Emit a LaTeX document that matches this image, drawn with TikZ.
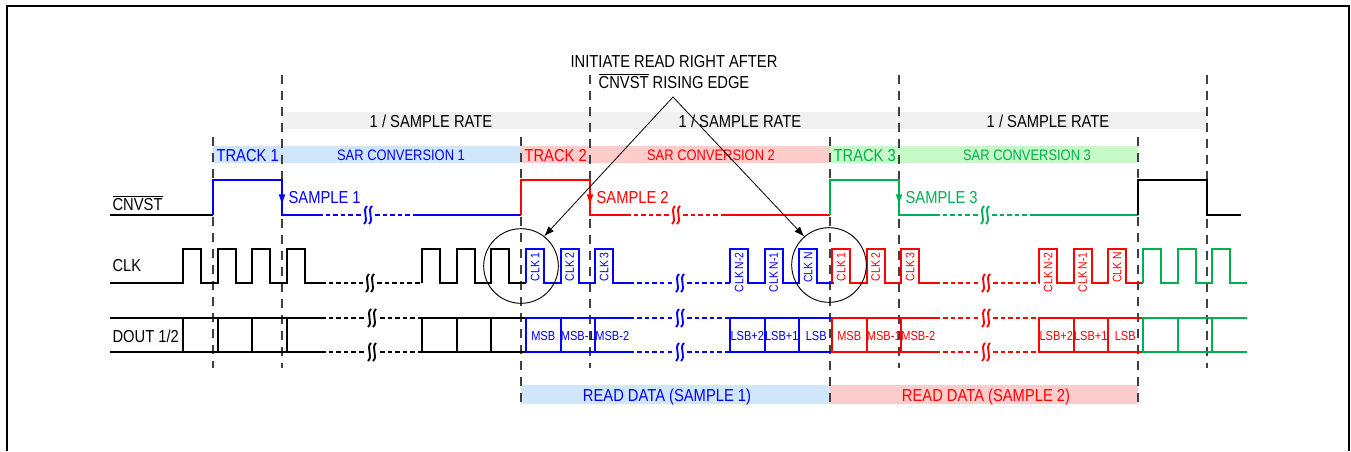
\documentclass[tikz,border=0pt]{standalone}
\usepackage{fontspec}
\setmainfont{Liberation Sans}[FakeStretch=0.85]
\usepackage{tikz}
\usetikzlibrary{arrows.meta}
\definecolor{sigBlue}{HTML}{0000FF}
\definecolor{sigRed}{HTML}{FF0000}
\definecolor{sigGreen}{HTML}{00B050}
\definecolor{barBlue}{HTML}{CFE6FB}
\definecolor{barRed}{HTML}{FFCCCC}
\definecolor{barGreen}{HTML}{C6FAC6}
\definecolor{barGray}{HTML}{F0F0F0}
\tikzset{brk/.pic={\foreach \dx in {-2.5,2.5} \draw[line width=1.4pt] (\dx+1.5,-9) .. controls (\dx-4,-4) and (\dx+4,4) .. (\dx-1.5,9);}}

\begin{document}
\begin{tikzpicture}[
          x=0.75pt, y=-0.75pt,
          wave/.style={line width=1.5pt},
          gap/.style={line width=1.5pt, dash pattern=on 3.4pt off 2.3pt},
          dbar/.style={line width=1.5pt, line cap=rect},
          divider/.style={draw=black!75, line width=0.8pt, dash pattern=on 7pt off 5pt},
          fall/.style={line width=1.5pt, -{Latex[length=9.5pt,width=5pt]}},
          lbl/.style={inner sep=1pt, font=\fontsize{13}{15}\selectfont, text height=9.3pt, text depth=0pt},
          small/.style={inner sep=1pt, font=\fontsize{11.4}{13}\selectfont, text height=8.2pt, text depth=0pt},
          bit/.style={inner sep=0pt, font=\fontsize{9.75}{11}\selectfont, text height=7pt, text depth=0pt},
          clklbl/.style={inner sep=0pt, rotate=90, anchor=east, font=\fontsize{9.2}{11}\selectfont, text height=6.6pt, text depth=0pt},
          ring/.style={circle, draw, line width=0.7pt, minimum size=56pt, inner sep=0pt},
          pointer/.style={line width=0.6pt, {Latex[length=7.5pt,width=5.5pt]}-{Latex[length=7.5pt,width=5.5pt]}}
        ]
        \useasboundingbox (0,0) rectangle (1351,451);
        \draw[line width=1.6pt] (7,451) -- (7,6) -- (1349,6) -- (1349,451);

        \fill[barGray] (282,112) rectangle (1207,129);
        \fill[barBlue] (213,146) rectangle (521,163);
        \fill[barRed] (521,146) rectangle (830,163);
        \fill[barGreen] (830,146) rectangle (1138,163);
        \fill[barBlue] (521,385) rectangle (830,404);
        \fill[barRed] (830,385) rectangle (1138,404);

        \foreach \x in {282,590,899,1207} \draw[divider] (\x,75) -- (\x,368);
        \draw[divider] (213,137) -- (213,368);
        \foreach \x in {521,830,1138} \draw[divider] (\x,137) -- (\x,406);

        \node[lbl] (rate1) at (431,121) {1 / SAMPLE RATE};
        \node[lbl] (rate2) at (740,121) {1 / SAMPLE RATE};
        \node[lbl] (rate3) at (1048,121) {1 / SAMPLE RATE};
        \node[lbl, anchor=west, text=sigBlue] (track1) at (215,155) {TRACK 1};
        \node[lbl, anchor=west, text=sigRed] (track2) at (523,155) {TRACK 2};
        \node[lbl, anchor=west, text=sigGreen] (track3) at (832,155) {TRACK 3};
        \node[small, text=sigBlue] (sar1) at (401,155) {SAR CONVERSION 1};
        \node[small, text=sigRed] (sar2) at (711,155) {SAR CONVERSION 2};
        \node[small, text=sigGreen] (sar3) at (1027,155) {SAR CONVERSION 3};
        \node[lbl, text=sigBlue] (read1) at (667,395) {READ DATA (SAMPLE 1)};
        \node[lbl, text=sigRed] (read2) at (986,395) {READ DATA (SAMPLE 2)};

        \node[lbl, anchor=west] (cnvst) at (111,204) {$\overline{\mbox{CNVST}}$};
        \node[lbl, anchor=west] (clk) at (111,265) {CLK};
        \node[lbl, anchor=west] (dout) at (111,336) {DOUT 1/2};
        \node[lbl] (note1) at (674,61) {INITIATE READ RIGHT AFTER};
        \node[lbl] (note2) at (674,82) {$\overline{\mbox{CNVST}}$ RISING EDGE};

        \draw[wave] (110,215) -- (213,215);
        \foreach \trk/\smp/\nxt/\col [count=\k] in {213/282/521/sigBlue, 521/590/830/sigRed, 830/899/1138/sigGreen} {
          \draw[wave, color=\col] (\trk,215) -- (\trk,180) -- (\smp,180) -- (\smp,215) -- (\smp+36,215);
          \draw[gap, color=\col] (\smp+36,215) -- (\smp+80,215) (\smp+93,215) -- (\smp+135,215);
          \draw[wave, color=\col] (\smp+135,215) -- (\nxt,215);
          \pic[color=\col] at (\smp+86,215) {brk};
          \draw[fall, color=\col] (\smp,181) -- (\smp,207);
          \node[lbl, anchor=west, text=\col] (sample\k) at (\smp+5,197) {SAMPLE \k};
        }
        \draw[wave] (1138,215) -- (1138,180) -- (1207,180) -- (1207,215) -- (1241,215);

        \draw[wave] (110,283) -- (183,283) \foreach \i in {1,...,4} {-- ++(0,-34) -- ++(18,0) -- ++(0,34) -- ++(16.5,0)};
        \draw[gap] (321,283) -- (363,283) (377,283) -- (422,283);
        \pic at (370,283) {brk};
        \draw[wave] (422,283) \foreach \i in {1,2,3} {-- ++(0,-34) -- ++(18,0) -- ++(0,34) -- ++(16.5,0)};

        \draw[wave] (110,318) -- (321,318) (110,352) -- (321,352) (422,318) -- (526,318) (422,352) -- (526,352);
        \draw[gap] (321,318) -- (364,318) (380,318) -- (422,318) (321,352) -- (364,352) (380,352) -- (422,352);
        \pic at (372,318) {brk};
        \pic at (372,352) {brk};
        \foreach \x in {183,217.5,252,286.5,422,456.5,491} \draw[dbar] (\x,318) -- (\x,352);

        \foreach \ga/\gb/\col in {526/730/sigBlue, 832/1039/sigRed} {
          \draw[wave, color=\col] (\ga,283) \foreach \i in {1,2,3} {-- ++(0,-34) -- ++(18,0) -- ++(0,34) -- ++(16.5,0)};
          \draw[gap, color=\col] (\ga+103.5,283) -- (\ga+147,283) (\ga+161,283) -- (\gb,283);
          \pic[color=\col] at (\ga+154,283) {brk};
          \draw[wave, color=\col] (\gb,283) \foreach \i in {1,2,3} {-- ++(0,-34) -- ++(18,0) -- ++(0,34) -- ++(16.5,0)};
          \draw[wave, color=\col] (\ga,318) -- (\ga+103.5,318) (\ga,352) -- (\ga+103.5,352) (\gb,318) -- (\gb+103.5,318) (\gb,352) -- (\gb+103.5,352);
          \draw[gap, color=\col] (\ga+103.5,318) -- (\ga+147,318) (\ga+161,318) -- (\gb,318) (\ga+103.5,352) -- (\ga+147,352) (\ga+161,352) -- (\gb,352);
          \pic[color=\col] at (\ga+154,318) {brk};
          \pic[color=\col] at (\ga+154,352) {brk};
          \foreach \i in {0,1,2} \draw[dbar, color=\col] (\ga+34.5*\i,318) -- (\ga+34.5*\i,352) (\gb+34.5*\i,318) -- (\gb+34.5*\i,352);
          \foreach \txt [count=\i from 0] in {CLK 1,CLK 2,CLK 3} \node[clklbl, text=\col] (clk\ga-\i) at (\ga+9+34.5*\i,252) {\txt};
          \foreach \txt [count=\i from 0] in {CLK N-2,CLK N-1,CLK N} \node[clklbl, text=\col] (clk\gb-\i) at (\gb+9+34.5*\i,252) {\txt};
          \foreach \txt [count=\i from 0] in {MSB,MSB-1,MSB-2} \node[bit, text=\col] (bit\ga-\i) at (\ga+17.25+34.5*\i,336) {\txt};
          \foreach \txt [count=\i from 0] in {LSB+2,LSB+1,LSB} \node[bit, text=\col] (bit\gb-\i) at (\gb+17.25+34.5*\i,336) {\txt};
        }

        \draw[wave, sigGreen] (1143,283) \foreach \i in {1,2,3} {-- ++(0,-34) -- ++(18,0) -- ++(0,34) -- ++(16.5,0)};
        \draw[wave, sigGreen] (1143,318) -- (1247,318) (1143,352) -- (1247,352);
        \foreach \x in {1143,1177.5,1212} \draw[dbar, sigGreen] (\x,318) -- (\x,352);

        \node[ring] (ring1) at (521,266) {};
        \node[ring] (ring2) at (829,265) {};
        \coordinate (apex) at (673,97);
        \draw[pointer] (ring1.52) -- (apex) -- (ring2.131);
      \end{tikzpicture}
\end{document}
